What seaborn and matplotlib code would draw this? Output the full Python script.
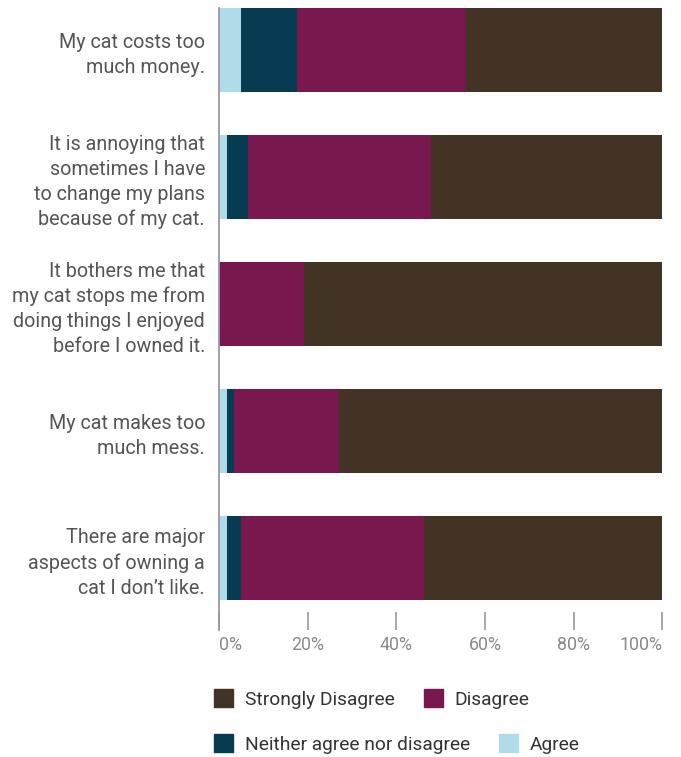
import matplotlib
matplotlib.use("Agg")
import matplotlib.pyplot as plt
from matplotlib.patches import Patch
import numpy as np
import pandas as pd
import seaborn as sns

statements = [
    "My cat costs too\nmuch money.",
    "It is annoying that\nsometimes I have\nto change my plans\nbecause of my cat.",
    "It bothers me that\nmy cat stops me from\ndoing things I enjoyed\nbefore I owned it.",
    "My cat makes too\nmuch mess.",
    "There are major\naspects of owning a\ncat I don\u2019t like.",
]
agree = [5.0, 1.8, 0.0, 1.8, 1.8]
neither = [12.6, 4.7, 0.0, 1.6, 3.2]
disagree = [38.0, 41.4, 19.2, 23.7, 41.2]
strongly_disagree = [44.4, 52.1, 80.8, 72.9, 53.8]

ticks = [0, 20, 40, 60, 80, 100]
tick_labels = ["0%", "20%", "40%", "60%", "80%", "100%"]

colors = {
    "Agree": "#b0dcea",
    "Neither agree nor disagree": "#073b52",
    "Disagree": "#78184f",
    "Strongly Disagree": "#433324",
}

sns.set_theme(style="white")
plt.rcParams["font.family"] = ["Roboto", "DejaVu Sans"]

df = pd.DataFrame({
    "statement": statements,
    "Agree": agree,
    "Neither agree nor disagree": neither,
    "Disagree": disagree,
    "Strongly Disagree": strongly_disagree,
})
order = ["Agree", "Neither agree nor disagree", "Disagree", "Strongly Disagree"]
cum = df[order].cumsum(axis=1)

fig = plt.figure(figsize=(6.81, 7.57), dpi=100)
ax = fig.add_axes([219 / 681, 1 - 630 / 757, (662.5 - 219) / 681, (630 - 8) / 757])

# stacked bars: draw the longest cumulative segment first
for key in reversed(order):
    sns.barplot(x=cum[key], y=df["statement"], orient="h", color=colors[key],
                width=0.66, saturation=1, ax=ax, linewidth=0)

ax.set_xlim(0, 100)
ax.set_ylim(4.567, -0.33)
ax.set_xticks(ticks)
ax.set_xticklabels(tick_labels)
ax.set_xlabel("")
ax.set_ylabel("")

for s in ["top", "right", "bottom"]:
    ax.spines[s].set_visible(False)
ax.spines["left"].set_color("#9a9a9a")
ax.spines["left"].set_linewidth(1.3)

ax.tick_params(axis="x", direction="in", length=13, width=1.2, color="#9a9a9a",
               labelcolor="#8a8a8a", labelsize=12.8, pad=4, bottom=True)
xl = ax.get_xticklabels()
xl[0].set_horizontalalignment("left")
xl[-1].set_horizontalalignment("right")

ax.set_yticks(range(len(statements)))
ax.set_yticklabels(statements, linespacing=1.4, ha="right")
ax.tick_params(axis="y", left=False, labelcolor="#555555", labelsize=14.2, pad=4)

# legend in two rows
row1 = [Patch(color=colors["Strongly Disagree"], label="Strongly Disagree"),
        Patch(color=colors["Disagree"], label="Disagree")]
row2 = [Patch(color=colors["Neither agree nor disagree"], label="Neither agree nor disagree"),
        Patch(color=colors["Agree"], label="Agree")]
common = dict(frameon=False, ncol=2, handlelength=1.0, handleheight=1.0,
              handletextpad=0.62, columnspacing=1.5, fontsize=13.8,
              labelcolor="#333333", borderaxespad=0, borderpad=0)
fig.legend(handles=row1, loc="center left", bbox_to_anchor=(214 / 681, 1 - 699 / 757), **common)
fig.legend(handles=row2, loc="center left", bbox_to_anchor=(214 / 681, 1 - 744 / 757), **common)

fig.savefig("out.png", dpi=100)
